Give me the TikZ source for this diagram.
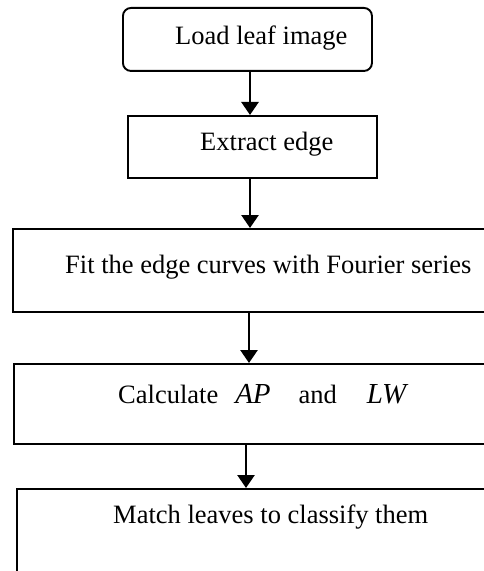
\documentclass[tikz,border=0pt]{standalone}
\usepackage{fontspec}
\setmainfont{Liberation Serif}
\usetikzlibrary{arrows.meta}

\begin{document}
\begin{tikzpicture}[x=1bp,y=-1bp,
    box/.style={draw,line width=1.9bp,inner sep=0pt,anchor=north west},
    txt/.style={anchor=base west,inner sep=0pt,font=\fontsize{26.5bp}{32bp}\selectfont},
    arr/.style={line width=2.6bp,-{Triangle[length=13bp,width=17bp]}}]
  \useasboundingbox (0,0) rectangle (484,571);
  \clip (0,0) rectangle (484,571);
  % boxes
  \node[box,rounded corners=8bp,minimum width=249bp,minimum height=63bp] (load) at (122,7) {};
  \node[box,minimum width=249bp,minimum height=62bp] (extract) at (127,115) {};
  \node[box,minimum width=520bp,minimum height=83bp] (fit) at (12,228) {};
  \node[box,minimum width=520bp,minimum height=80bp] (calc) at (13,363) {};
  \node[box,minimum width=520bp,minimum height=120bp] (match) at (16,488) {};
  % texts
  \node[txt] (loadtxt) at (175,45) {Load leaf image};
  \node[txt] (extracttxt) at (200,151) {Extract edge};
  \node[txt] (fittxt) at (65,273) {Fit the edge curves with Fourier series};
  \node[txt] (calctxt) at (118,403) {Calculate\hspace{17bp}{\fontsize{29bp}{32bp}\selectfont\itshape AP}\hspace{28bp}and\hspace{30bp}{\fontsize{29bp}{32bp}\selectfont\itshape LW}};
  \node[txt] (matchtxt) at (113,523) {Match leaves to classify them};
  % arrows
  \coordinate (a1) at (250,0);
  \coordinate (a3) at (249,0);
  \coordinate (a4) at (246,0);
  \draw[arr] (load.south -| a1) -- (extract.north -| a1);
  \draw[arr] (extract.south -| a1) -- (fit.north -| a1);
  \draw[arr] (fit.south -| a3) -- (calc.north -| a3);
  \draw[arr] (calc.south -| a4) -- (match.north -| a4);
\end{tikzpicture}
\end{document}
